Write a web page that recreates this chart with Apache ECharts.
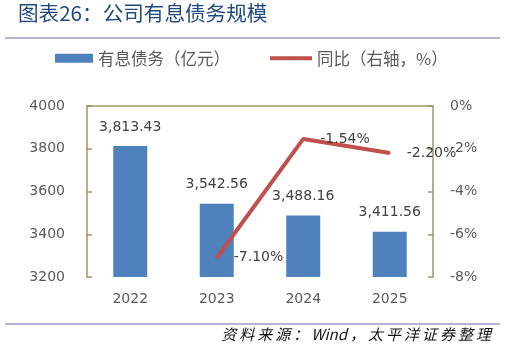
<!DOCTYPE html>
<html>
<head>
<meta charset="utf-8">
<script src="https://cdn.jsdelivr.net/npm/echarts@6/dist/echarts.min.js"></script>
<style>
  html, body { margin: 0; padding: 0; background: #fff; }
  #main { width: 507px; height: 351px; }
</style>
</head>
<body>
<div id="main"></div>
<script>
var myChart = echarts.init(document.getElementById('main'));

// data
var years = ['2022', '2023', '2024', '2025'];
var debt = [3813.43, 3542.56, 3488.16, 3411.56];   // 有息债务（亿元）
var yoy = [null, -7.10, -1.54, -2.20];             // 同比（%）

var axisCol = '#a09464';
var txtCol = '#595959';
var fontCn = '"Noto Sans CJK SC", sans-serif';

function fmtMoney(v) {
    var s = v.toFixed(2).split('.');
    return s[0].replace(/\B(?=(\d{3})+(?!\d))/g, ',') + '.' + s[1];
}

var option = {
    animation: false,
    textStyle: { fontFamily: 'DejaVu Sans' },
    grid: { left: 87, right: 74, top: 106, bottom: 74 },
    graphic: [
        { type: 'text', left: 18, top: 3,
          style: { text: '图表26：公司有息债务规模',
                   fill: '#1f497d', font: '20.6px ' + fontCn } },
        { type: 'line', shape: { x1: 5, y1: 38, x2: 500, y2: 38 },
          style: { stroke: '#9a9ac4', lineWidth: 1.5 } },
        { type: 'line', shape: { x1: 5, y1: 324, x2: 500, y2: 324 },
          style: { stroke: '#9a9ac4', lineWidth: 1.5 } },
        { type: 'text', right: 16, top: 327,
          style: { text: '资\u2009料\u2009来\u2009源\u2009：\u2009Wind\u2009，\u2009太\u2009平\u2009洋\u2009证\u2009券\u2009整\u2009理',
                   fill: '#111', font: 'italic 15px ' + fontCn } }
    ],
    legend: [
        { data: ['有息债务（亿元）'], left: 55, top: 50, padding: 0, icon: 'rect',
          itemWidth: 38, itemHeight: 9, itemGap: 5,
          textStyle: { color: txtCol, fontSize: 16.5, fontFamily: fontCn } },
        { data: ['同比（右轴，%）'], left: 270, top: 50, padding: 0, icon: 'rect',
          itemWidth: 42, itemHeight: 4,
          textStyle: { color: txtCol, fontSize: 16.5, fontFamily: fontCn } }
    ],
    xAxis: {
        type: 'category',
        data: years,
        axisLine: { lineStyle: { color: axisCol, width: 1.5 } },
        axisTick: { inside: true, length: 5, lineStyle: { color: axisCol, width: 1.5 } },
        axisLabel: { color: txtCol, fontSize: 14, margin: 15 }
    },
    yAxis: [
        { type: 'value', min: 3200, max: 4000, interval: 200,
          axisLine: { show: true, lineStyle: { color: axisCol, width: 1.5 } },
          axisTick: { show: true, inside: true, length: 5, lineStyle: { color: axisCol, width: 1.5 } },
          axisLabel: { color: txtCol, fontSize: 14, margin: 22, formatter: function (v) { return String(v); } },
          splitLine: { show: false } },
        { type: 'value', min: -8, max: 0, interval: 2,
          axisLine: { show: true, lineStyle: { color: axisCol, width: 1.5 } },
          axisTick: { show: true, inside: true, length: 5, lineStyle: { color: axisCol, width: 1.5 } },
          axisLabel: { color: txtCol, fontSize: 14, margin: 17, formatter: '{value}%' },
          splitLine: { show: false } }
    ],
    series: [
        { name: '有息债务（亿元）', type: 'bar', data: debt, barWidth: 34,
          itemStyle: { color: '#4f81bd' },
          label: { show: true, position: 'top', distance: 12, color: '#404040', fontSize: 14,
                   formatter: function (p) { return fmtMoney(p.value); } } },
        { name: '同比（右轴，%）', type: 'line', yAxisIndex: 1, data: yoy,
          symbol: 'circle', symbolSize: 2, connectNulls: false,
          lineStyle: { color: '#c0504d', width: 4 },
          itemStyle: { color: '#c0504d' },
          label: { show: true, position: 'right', distance: 16, color: '#404040', fontSize: 14,
                   formatter: function (p) { return p.value.toFixed(2) + '%'; } } }
    ]
};
myChart.setOption(option);
</script>
</body>
</html>
